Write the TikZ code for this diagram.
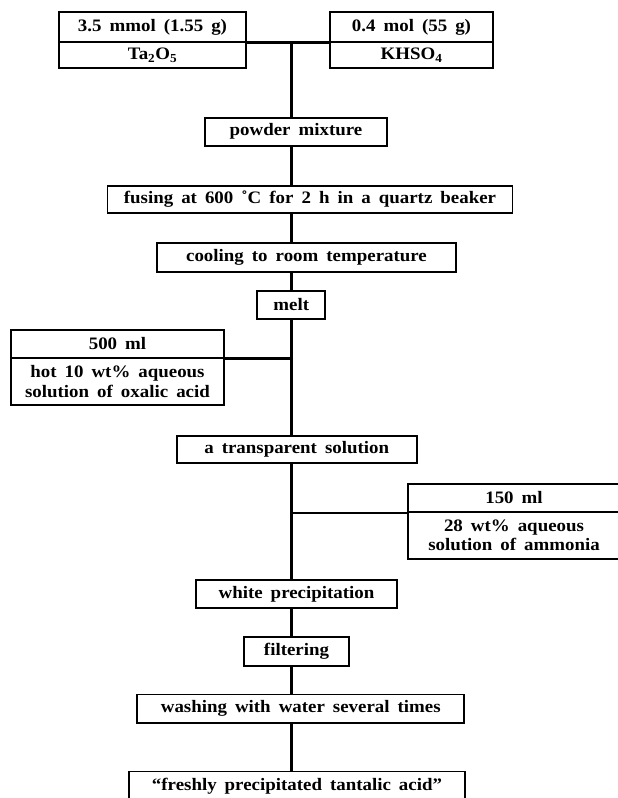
\documentclass[tikz,border=0pt]{standalone}
\usepackage{fontspec}
\newfontfamily\boxfont{Liberation Serif}[FakeStretch=1.08, WordSpace=1.7]
\begin{document}
\begin{tikzpicture}[x=1pt,y=-1pt,
  box/.style={draw, line width=1.7pt, inner sep=0pt, align=center, fill=white,
    font=\boxfont\bfseries\fontsize{17.5}{19.5}\selectfont},
  link/.style={line width=2.6pt},
  branch/.style={line width=3pt}]
\fill[white] (0,0) rectangle (618,798);
\useasboundingbox (0,0) rectangle (618,798);
\coordinate (spine) at (291.7,41);
% top inputs
\node[box, minimum width=187pt, minimum height=30pt] (tlA) at (152.5,27) {3.5 mmol (1.55 g)};
\node[box, minimum width=187pt, minimum height=26pt] (tlB) at (152.5,55) {Ta\textsubscript{2}O\textsubscript{5}};
\node[box, minimum width=163pt, minimum height=30pt] (trA) at (411.5,27) {0.4 mol (55 g)};
\node[box, minimum width=163pt, minimum height=26pt] (trB) at (411.5,55) {KHSO\textsubscript{4}};
% main steps
\node[box, minimum width=182pt, minimum height=28pt] (powder) at (296,131.7) {powder mixture};
\node[box, minimum width=405pt, minimum height=27pt] (fusing) at (310,199.5) {fusing at 600 ˚C for 2 h in a quartz beaker};
\node[box, minimum width=299pt, minimum height=29pt] (cooling) at (306.5,257.5) {cooling to room temperature};
\node[box, minimum width=68pt, minimum height=28pt] (melt) at (291.3,305) {melt};
\node[box, minimum width=213.6pt, minimum height=28pt] (oxA) at (117.5,344) {500 ml};
\node[box, minimum width=213.6pt, minimum height=47pt] (oxB) at (117.5,381.5) {hot 10 wt\% aqueous\\solution of oxalic acid};
\node[box, minimum width=240pt, minimum height=27pt] (trans) at (296.7,449.2) {a transparent solution};
\node[box, minimum width=212pt, minimum height=28pt] (amA) at (514,498) {150 ml};
\node[box, minimum width=212pt, minimum height=47pt] (amB) at (514,535.5) {28 wt\% aqueous\\solution of ammonia};
\node[box, minimum width=201pt, minimum height=28pt] (white) at (296.5,594) {white precipitation};
\node[box, minimum width=105pt, minimum height=28.5pt] (filt) at (296.5,651.5) {filtering};
\node[box, minimum width=327pt, minimum height=28.5pt] (wash) at (300.8,708.8) {washing with water several times};
\node[box, minimum width=336pt, minimum height=29pt] (fresh) at (297,786) {“freshly precipitated tantalic acid”};
% connectors
\draw[branch] (tlA.south east) -- (trA.south west);
\draw[link] (spine) -- (spine |- powder.north);
\draw[link] (powder.south -| spine) -- (fusing.north -| spine);
\draw[link] (fusing.south -| spine) -- (cooling.north -| spine);
\draw[link] (cooling.south -| spine) -- (melt.north -| spine);
\draw[link] (melt.south -| spine) -- (trans.north -| spine);
\draw[branch] (oxA.south east) -- (oxA.south east -| spine);
\draw[link] (trans.south -| spine) -- (white.north -| spine);
\draw[link] (amA.south west) -- (amA.south west -| spine);
\draw[link] (white.south -| spine) -- (filt.north -| spine);
\draw[link] (filt.south -| spine) -- (wash.north -| spine);
\draw[link] (wash.south -| spine) -- (fresh.north -| spine);
\end{tikzpicture}
\end{document}
